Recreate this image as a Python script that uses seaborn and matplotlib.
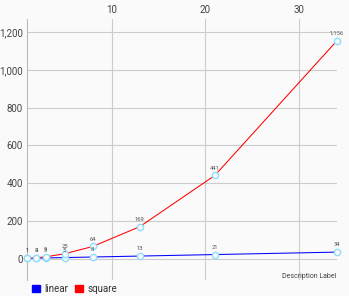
import matplotlib
matplotlib.use("Agg")
import matplotlib.pyplot as plt
import seaborn as sns
import pandas as pd
from matplotlib.ticker import FuncFormatter
from matplotlib.patches import Patch

x_values = [1, 2, 3, 5, 8, 13, 21, 34]
linear = [1, 2, 3, 5, 8, 13, 21, 34]
square = [1, 4, 9, 25, 64, 169, 441, 1156]
series_names = ["linear", "square"]
series_colors = ["#0000ff", "#ff0000"]
y_ticks = [0, 200, 400, 600, 800, 1000, 1200]
x_ticks = [10, 20, 30]

df = pd.concat([
    pd.DataFrame({"x": x_values, "y": linear, "series": "linear"}),
    pd.DataFrame({"x": x_values, "y": square, "series": "square"}),
])

sns.set_style("white")
plt.rcParams["font.family"] = ["Roboto", "DejaVu Sans"]

fig = plt.figure(figsize=(3.49, 2.96), dpi=100)
fig.patch.set_facecolor("#fafafa")
ax = fig.add_axes([27/349, 1-280/296, (337-27)/349, (280-19)/296])
ax.set_facecolor("#fafafa")

sns.lineplot(data=df, x="x", y="y", hue="series", palette=series_colors,
             hue_order=series_names, linewidth=0.75, marker="o", markersize=4.5,
             markerfacecolor="#fafafa", markeredgecolor="#8fdcff",
             markeredgewidth=1.0, legend=False, ax=ax, zorder=3, clip_on=False)

for vals in [linear, square]:
    for xv, yv in zip(x_values, vals):
        ax.annotate(f"{yv:,}", (xv, yv), xytext=(0, 3.5), textcoords="offset points",
                    ha="center", va="bottom", fontsize=4.2, color="#555555", zorder=4)

ax.set_xlim(1, 34)
ax.set_ylim(-114, 1271)
ax.set_xticks(x_ticks)
ax.set_yticks(y_ticks)
ax.yaxis.set_major_formatter(FuncFormatter(lambda v, p: f"{int(v):,}"))
ax.xaxis.tick_top()
ax.tick_params(axis="both", length=0, labelsize=7, colors="#444444", pad=3)
ax.grid(True, color="#cccccc", linewidth=0.8)
ax.set_xlabel("")
ax.set_ylabel("")
for s in ["top", "right", "bottom"]:
    ax.spines[s].set_visible(False)
ax.spines["left"].set_color("#bbbbbb")
ax.spines["left"].set_linewidth(0.8)

fig.text(336/349, 1-277/296, "Description Label", ha="right", va="center",
         fontsize=5, color="#444444")

handles = [Patch(facecolor=c, edgecolor=c) for c in series_colors]
fig.legend(handles, series_names, loc="center left", bbox_to_anchor=(32/349, 1-289/296),
           ncol=2, frameon=False, fontsize=7, handlelength=0.8, handleheight=0.8,
           handletextpad=0.5, columnspacing=0.7, labelcolor="#333333", borderpad=0,
           borderaxespad=0)

fig.savefig("out.png", dpi=100, facecolor=fig.get_facecolor())
